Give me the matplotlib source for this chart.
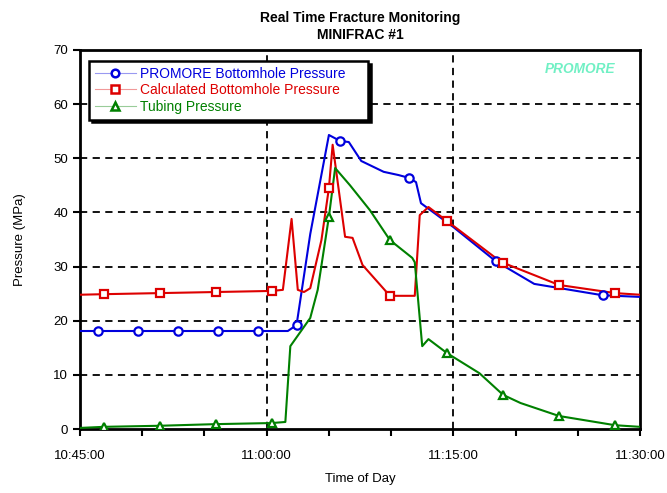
import matplotlib.pyplot as plt
from matplotlib.lines import Line2D
from matplotlib.colors import to_rgb
from matplotlib.ticker import MultipleLocator

plt.rcParams['font.family'] = ['Liberation Sans', 'DejaVu Sans']

# minutes after 10:45:00
t_blue = [0, 1.45, 4.66, 7.88, 11.1, 14.3, 16.7, 17.4, 18.5, 20.0, 20.9, 21.6, 22.6, 24.4,
          25.6, 26.4, 27.0, 27.4, 30.0, 33.4, 36.5, 42.0, 45.0]
p_blue = [18.1, 18.1, 18.1, 18.1, 18.1, 18.1, 18.1, 19.2, 36.0, 54.3, 53.2, 53.0, 49.5, 47.5,
          46.9, 46.4, 45.6, 41.7, 37.3, 31.0, 26.8, 24.7, 24.4]

t_red = [0, 1.9, 6.4, 10.9, 15.4, 16.3, 17.0, 17.5, 18.0, 18.5, 19.4, 20.0, 20.3, 21.3, 21.9,
         22.7, 24.9, 26.9, 27.3, 28.0, 29.5, 33.4, 34.0, 38.5, 43.0, 45.0]
p_red = [24.8, 24.9, 25.1, 25.3, 25.5, 25.7, 38.8, 25.7, 25.3, 26.0, 34.9, 44.5, 52.5, 35.5, 35.3,
         30.3, 24.6, 24.6, 39.5, 41.0, 38.4, 31.6, 30.7, 26.6, 25.1, 24.8]

t_green = [0, 1.9, 6.4, 10.9, 15.4, 16.5, 16.9, 18.5, 19.1, 20.0, 20.5, 21.7, 23.3, 24.9, 26.7,
           26.9, 27.5, 28.0, 29.5, 32.1, 34.0, 35.4, 38.5, 43.0, 45.0]
p_green = [0.2, 0.4, 0.6, 0.9, 1.1, 1.3, 15.3, 20.5, 25.7, 39.2, 48.2, 45.0, 40.4, 34.9, 31.6,
           30.8, 15.3, 16.6, 14.0, 10.3, 6.3, 4.8, 2.4, 0.7, 0.4]

# marker positions
mk_blue = [1.45, 4.66, 7.88, 11.1, 14.3, 17.4, 20.9, 26.4, 33.4, 42.0]
mv_blue = [18.1, 18.1, 18.1, 18.1, 18.1, 19.2, 53.2, 46.4, 31.0, 24.7]
mk_red = [1.9, 6.4, 10.9, 15.4, 20.0, 24.9, 29.5, 34.0, 38.5, 43.0]
mv_red = [24.9, 25.1, 25.3, 25.5, 44.5, 24.6, 38.4, 30.7, 26.6, 25.1]
mk_green = [1.9, 6.4, 10.9, 15.4, 20.0, 24.9, 29.5, 34.0, 38.5, 43.0]
mv_green = [0.4, 0.6, 0.9, 1.1, 39.2, 34.9, 14.0, 6.3, 2.4, 0.7]

xticks = [0, 15, 30, 45]
xlabels = ['10:45:00', '11:00:00', '11:15:00', '11:30:00']

fig = plt.figure(figsize=(6.67, 4.93), dpi=100)
ax = fig.add_axes([0.12, 0.1298, 0.8395, 0.7688])

series = [
    (t_blue, p_blue, mk_blue, mv_blue, '#0000dd', 'o', 'PROMORE Bottomhole Pressure'),
    (t_red, p_red, mk_red, mv_red, '#dd0000', 's', 'Calculated Bottomhole Pressure'),
    (t_green, p_green, mk_green, mv_green, '#008000', '^', 'Tubing Pressure'),
]
handles = []
for t, p, mt, mv, c, m, lab in series:
    ax.plot(t, p, color=c, lw=1.5, zorder=3)
    ax.plot(mt, mv, ls='none', marker=m, ms=6, mfc='white', mec=c, mew=1.6, zorder=4)
    # pale line through the legend key
    pale = tuple(0.6 + 0.4 * v for v in to_rgb(c))
    handles.append(Line2D([], [], color=pale, lw=0.8, marker=m, ms=5.5, mfc='white', mec=c,
                          mew=1.8, label=lab))

ax.set_xlim(0, 45)
ax.set_ylim(0, 70)
ax.set_xticks(xticks)
ax.set_xticklabels(xlabels)
ax.xaxis.set_minor_locator(MultipleLocator(5))
ax.yaxis.set_major_locator(MultipleLocator(10))
ax.tick_params(labelsize=9.5, width=1.5, length=5, direction='out')
ax.tick_params(axis='x', which='minor', length=5, width=1.5)
ax.tick_params(axis='x', pad=10)

for y in range(10, 70, 10):
    ax.axhline(y, color='black', ls=(0, (4, 3)), lw=1.3, zorder=1)
for x in [15, 30]:
    ax.axvline(x, color='black', ls=(0, (4, 3)), lw=1.3, zorder=1)

for s in ax.spines.values():
    s.set_linewidth(2)

ax.set_xlabel('Time of Day', fontsize=9.5, labelpad=8)
ax.set_ylabel('Pressure (MPa)', fontsize=9.5, labelpad=20)
ax.set_title('Real Time Fracture Monitoring\nMINIFRAC #1', fontsize=10, fontweight='bold',
             linespacing=1.3, pad=8)

leg = ax.legend(handles=handles, loc='upper left', bbox_to_anchor=(0.016, 0.5, 0.498, 0.471),
                mode='expand', fontsize=10,
                frameon=True, fancybox=False, shadow={'color': 'black', 'alpha': 1},
                borderpad=0.4, labelspacing=0.2, handlelength=2.95, handletextpad=0.35,
                borderaxespad=0.0)
leg.get_frame().set_edgecolor('black')
leg.get_frame().set_linewidth(1.8)
for txt, (_, _, _, _, c, _, _) in zip(leg.get_texts(), series):
    txt.set_color(c)

ax.text(0.956, 0.967, 'PROMORE', transform=ax.transAxes, ha='right', va='top',
        fontsize=9.8, fontstyle='italic', fontweight='bold', color='#70f0c4')

fig.savefig('out.png', dpi=100)
